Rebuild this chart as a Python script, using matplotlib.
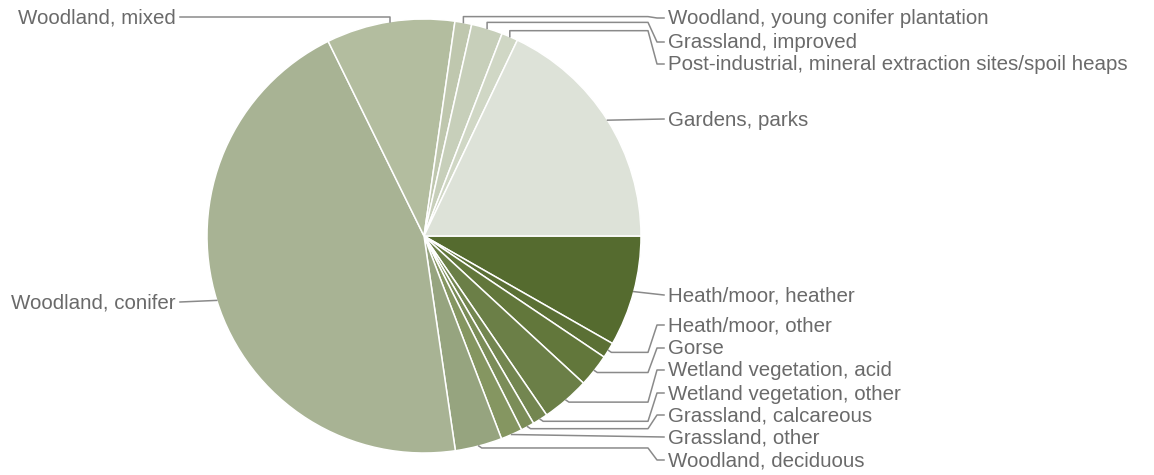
"""Pie chart of land cover categories with callout labels."""

import numpy as np
import matplotlib.pyplot as plt
from matplotlib import rcParams

rcParams['font.family'] = ['Liberation Sans', 'DejaVu Sans']

# slice order: clockwise from 3 o'clock
categories = [
    'Heath/moor, heather',
    'Heath/moor, other',
    'Gorse',
    'Wetland vegetation, acid',
    'Wetland vegetation, other',
    'Grassland, calcareous',
    'Grassland, other',
    'Woodland, deciduous',
    'Woodland, conifer',
    'Woodland, mixed',
    'Woodland, young conifer plantation',
    'Grassland, improved',
    'Post-industrial, mineral extraction sites/spoil heaps',
    'Gardens, parks',
]
shares = [8.25, 1.17, 2.44, 3.58, 1.14, 1.0, 1.61, 3.5,
          45.03, 9.56, 1.25, 2.33, 1.22, 17.92]
colors = ['#556b2f', '#5b7035', '#62773b', '#6b7f47', '#738650', '#7b8d58',
          '#859661', '#96a47f', '#a8b394', '#b3bd9f', '#bfc7ae', '#c7cfba',
          '#d0d7c5', '#dde2d8']

# layout: label rows (pixel y) and side
label_y = [296, 326, 349, 371, 394, 416, 438, 461, 303, 18, 19, 43, 65, 120]
label_side = ['r'] * 8 + ['l', 'l'] + ['r'] * 4

W, H = 1154, 475
CX, CY, R = 424, 236, 217
TEXT_COLOR = '#6a6a6a'
LINE_COLOR = '#8a8a8a'

fig = plt.figure(figsize=(W / 100, H / 100), dpi=100)
ax = fig.add_axes([0, 0, 1, 1])

wedges, _ = ax.pie(shares, colors=colors, startangle=0, counterclock=True,
                   center=(CX, CY), radius=R, frame=True,
                   wedgeprops=dict(edgecolor='white', linewidth=1.1))
ax.set_xlim(0, W)
ax.set_ylim(H, 0)
ax.set_aspect('equal')
ax.axis('off')

for w, name, ly, side in zip(wedges, categories, label_y, label_side):
    mid = np.deg2rad((w.theta1 + w.theta2) / 2)
    x0 = CX + R * np.cos(mid)
    y0 = CY + R * np.sin(mid)
    if side == 'l':
        if y0 < 60:
            pts = [(x0, y0), (x0, ly - 1), (180, ly - 1)]
        else:
            pts = [(x0, y0), (180, ly - 1)]
        tx, ha = 176, 'right'
    else:
        if y0 < 60:
            # top callouts: short tick up, then across
            y1 = y0 - 6
            pts = [(x0, y0), (x0, y1), (648, y1), (657, ly - 1), (664, ly - 1)]
        elif abs(ly - y0) < 5:
            pts = [(x0, y0), (664, ly - 1)]
        else:
            y1 = y0 + 2
            pts = [(x0, y0), (x0 + 3, y1), (648, y1), (657, ly - 1), (664, ly - 1)]
        tx, ha = 668, 'left'
    xs, ys = zip(*pts)
    ax.plot(xs, ys, color=LINE_COLOR, linewidth=1.1, solid_joinstyle='round')
    ax.text(tx, ly, name, ha=ha, va='center', fontsize=14.8, color=TEXT_COLOR)

fig.savefig('out.png', dpi=100, facecolor='white')
